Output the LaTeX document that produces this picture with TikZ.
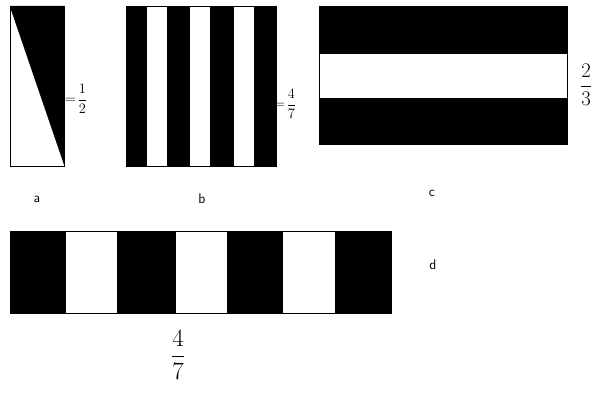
\documentclass[tikz,border=0pt]{standalone}
\usepackage{tikz}
\usetikzlibrary{positioning}
\tikzset{
	shapeframe/.style={draw=black, thin, fill=white}
}
\tikzset{
	blackpart/.style={fill=black, draw=black}
}
\tikzset{
	lettertext/.style={font=\sffamily\fontsize{14}{16}\selectfont, inner sep=0pt}
}
\tikzset{
	fractext/.style={font=\fontsize{14}{16}\selectfont, inner sep=0pt}
}
\begin{document}
\begin{tikzpicture}[x=1pt, y=-1pt]

			\useasboundingbox (0,0) rectangle (604,394);

			% a
			\begin{scope}
				\draw[shapeframe] (10,6) rectangle (64,166);
				\fill[blackpart] (10,6) -- (64,6) -- (64,164) -- cycle;
				\node[fractext] (fa) at (76,99) {$\displaystyle=\!\frac{1}{2}$};
				\node[lettertext] (la) at (37,199) {a};
			\end{scope}

			% b
			\begin{scope}
				\draw[shapeframe] (126,6) rectangle (276,166);
				\fill[blackpart] (126,6) rectangle (146,166);
				\fill[blackpart] (167,6) rectangle (189,166);
				\fill[blackpart] (210,6) rectangle (233,166);
				\fill[blackpart] (254,6) rectangle (276,166);
				\node[fractext] (fb) at (285,104) {$\displaystyle=\!\frac{4}{7}$};
				\node[lettertext] (lb) at (202,199) {b};
			\end{scope}

			% c
			\begin{scope}
				\draw[shapeframe] (319,6) rectangle (567,144);
				\fill[blackpart] (319,6) rectangle (567,53);
				\fill[blackpart] (319,98) rectangle (567,144);
				\node[fractext, font=\fontsize{22}{26}\selectfont] (fc) at (586,85) {$\displaystyle\frac{2}{3}$};
				\node[lettertext] (lc) at (432,193) {c};
			\end{scope}

			% d
			\begin{scope}
				\draw[shapeframe] (10,231) rectangle (391,313);
				\fill[blackpart] (10,231) rectangle (65,313);
				\fill[blackpart] (117,231) rectangle (175,313);
				\fill[blackpart] (227,231) rectangle (282,313);
				\fill[blackpart] (335,231) rectangle (391,313);
				\node[fractext, font=\fontsize{28}{32}\selectfont] (fd) at (178,355) {$\displaystyle\frac{4}{7}$};
				\node[lettertext] (ld) at (433,265) {d};
			\end{scope}

		\end{tikzpicture}
\end{document}
